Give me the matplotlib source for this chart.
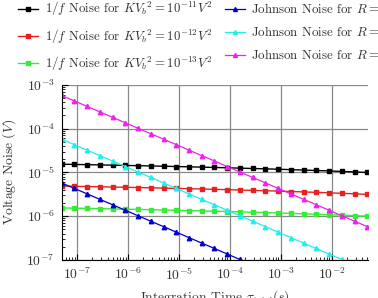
import matplotlib
matplotlib.use("Agg")
import matplotlib.pyplot as plt

plt.rcParams['font.family'] = 'serif'
plt.rcParams['font.serif'] = ['cmr10']
plt.rcParams['mathtext.fontset'] = 'cm'
plt.rcParams['axes.formatter.use_mathtext'] = True
plt.rcParams['axes.unicode_minus'] = False

# integration times (s)
tau = [5.00e-8, 8.89e-8, 1.58e-7, 2.81e-7, 5.00e-7, 8.89e-7, 1.58e-6, 2.81e-6,
       5.00e-6, 8.89e-6, 1.58e-5, 2.81e-5, 5.00e-5, 8.89e-5, 1.58e-4, 2.81e-4,
       5.00e-4, 8.89e-4, 1.58e-3, 2.81e-3, 5.00e-3, 8.89e-3, 1.58e-2, 2.81e-2,
       5.00e-2]

# 1/f noise (V)
flicker_11 = [15.40e-6, 15.21e-6, 15.02e-6, 14.83e-6, 14.64e-6, 14.44e-6, 14.24e-6,
              14.03e-6, 13.83e-6, 13.62e-6, 13.40e-6, 13.19e-6, 12.97e-6, 12.74e-6,
              12.51e-6, 12.28e-6, 12.05e-6, 11.81e-6, 11.56e-6, 11.31e-6, 11.05e-6,
              10.79e-6, 10.52e-6, 10.24e-6, 9.95e-6]
flicker_12 = [4.870e-6, 4.811e-6, 4.751e-6, 4.690e-6, 4.628e-6, 4.565e-6, 4.502e-6,
              4.437e-6, 4.372e-6, 4.306e-6, 4.238e-6, 4.170e-6, 4.100e-6, 4.030e-6,
              3.957e-6, 3.884e-6, 3.809e-6, 3.733e-6, 3.655e-6, 3.575e-6, 3.494e-6,
              3.411e-6, 3.325e-6, 3.237e-6, 3.147e-6]
flicker_13 = [1.540e-6, 1.521e-6, 1.502e-6, 1.483e-6, 1.464e-6, 1.444e-6, 1.424e-6,
              1.403e-6, 1.383e-6, 1.362e-6, 1.340e-6, 1.319e-6, 1.297e-6, 1.274e-6,
              1.251e-6, 1.228e-6, 1.205e-6, 1.181e-6, 1.156e-6, 1.131e-6, 1.105e-6,
              1.079e-6, 1.052e-6, 1.024e-6, 0.995e-6]

# Johnson noise (V)
johnson_200 = [5.75e-6, 4.31e-6, 3.23e-6, 2.42e-6, 1.82e-6, 1.36e-6, 1.02e-6, 7.67e-7,
               5.75e-7, 4.31e-7, 3.23e-7, 2.42e-7, 1.82e-7, 1.36e-7, 1.02e-7, 7.67e-8,
               5.75e-8, 4.31e-8]
johnson_20k = [5.75e-5, 4.31e-5, 3.23e-5, 2.42e-5, 1.82e-5, 1.36e-5, 1.02e-5, 7.67e-6,
               5.75e-6, 4.31e-6, 3.23e-6, 2.42e-6, 1.82e-6, 1.36e-6, 1.02e-6, 7.67e-7,
               5.75e-7, 4.31e-7, 3.23e-7, 2.42e-7, 1.82e-7, 1.36e-7, 1.02e-7, 7.67e-8,
               5.75e-8]
johnson_2M = [5.75e-4, 4.31e-4, 3.23e-4, 2.42e-4, 1.82e-4, 1.36e-4, 1.02e-4, 7.67e-5,
              5.75e-5, 4.31e-5, 3.23e-5, 2.42e-5, 1.82e-5, 1.36e-5, 1.02e-5, 7.67e-6,
              5.75e-6, 4.31e-6, 3.23e-6, 2.42e-6, 1.82e-6, 1.36e-6, 1.02e-6, 7.67e-7,
              5.75e-7]

flicker_labels = [r'$1/f$ Noise for $K{V_b}^2 = 10^{-11}V^2$',
                  r'$1/f$ Noise for $K{V_b}^2 = 10^{-12}V^2$',
                  r'$1/f$ Noise for $K{V_b}^2 = 10^{-13}V^2$']
johnson_labels = [r'Johnson Noise for $R = 200\,\Omega$',
                  r'Johnson Noise for $R = 20k\Omega$',
                  r'Johnson Noise for $R = 2M\Omega$']

fs = 9.8
fig = plt.figure(figsize=(3.78, 2.98), dpi=100)
ax = fig.add_axes([0.163, 0.128, 0.811, 0.587])

ms = 3.2
handles = []
for vals, col, lab in zip([flicker_11, flicker_12, flicker_13],
                          ['black', '#e82020', '#33ee33'], flicker_labels):
    h, = ax.plot(tau, vals, '-s', color=col, lw=1.0, ms=ms, label=lab)
    handles.append(h)
for vals, col, lab in zip([johnson_200, johnson_20k, johnson_2M],
                          ['#0000cc', '#22eeee', '#ee22ee'], johnson_labels):
    h, = ax.plot(tau[:len(vals)], vals, '-^', color=col, lw=0.9, ms=ms, label=lab)
    handles.append(h)

ax.set_xscale('log')
ax.set_yscale('log')
ax.set_xlim(5e-8, 5.2e-2)
ax.set_ylim(1e-7, 1e-3)
ax.grid(True, which='major', color='#888888', lw=0.9)
ax.spines['top'].set_visible(False)
ax.spines['right'].set_visible(False)
ax.tick_params(which='both', direction='in', labelsize=fs, colors='black',
               labelcolor='#333333', top=False, right=False)
ax.tick_params(which='major', length=4, pad=5)
ax.tick_params(which='minor', length=2)
ax.set_xticks([1e-7, 1e-6, 1e-5, 1e-4, 1e-3, 1e-2])
ax.set_ylabel(r'Voltage Noise $(V)$', fontsize=fs, color='#333333', labelpad=6)
ax.set_xlabel(r'Integration Time $\tau_{total}(s)$', fontsize=fs, color='#333333',
              labelpad=4)

fig.legend(handles=handles, loc='upper left', bbox_to_anchor=(0.048, 1.0),
           ncol=2, frameon=False, fontsize=9.3, handlelength=1.55,
           handletextpad=0.5, columnspacing=1.0, labelspacing=0.7,
           borderpad=0, borderaxespad=0, markerscale=0.9,
           labelcolor='#333333')

fig.savefig('out.png', dpi=100)
